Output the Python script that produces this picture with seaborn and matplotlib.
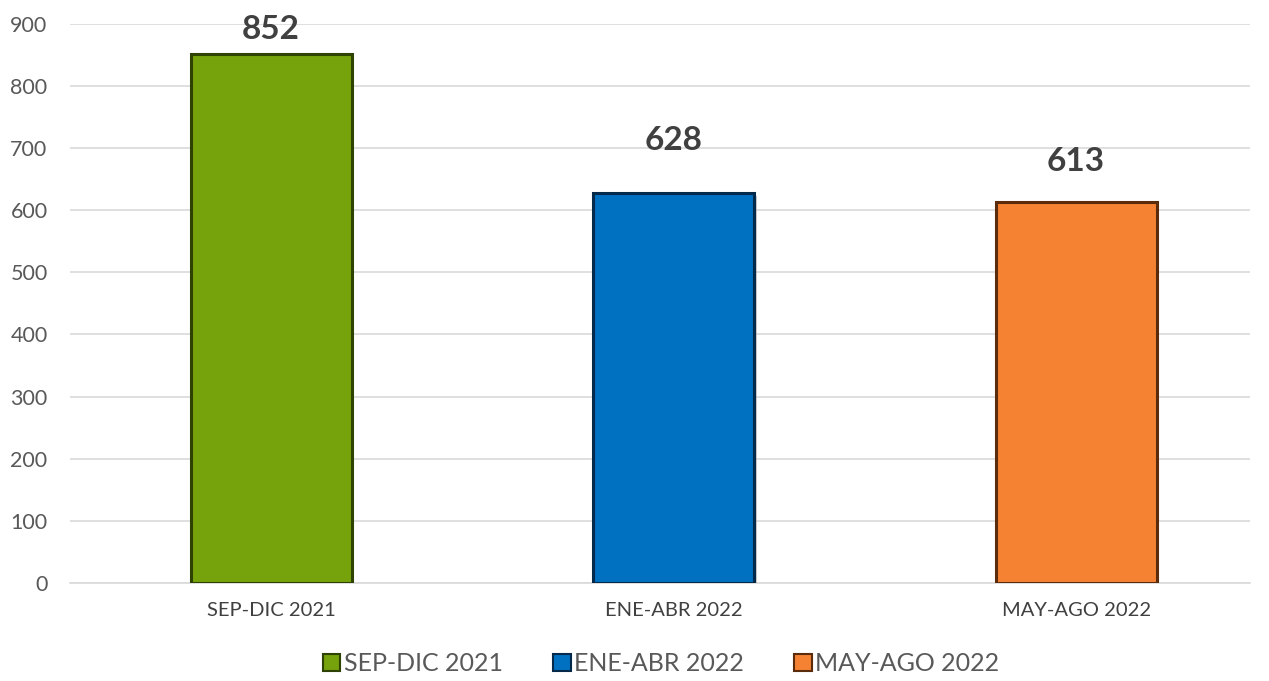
import matplotlib.pyplot as plt
import matplotlib.patches as mpatches
import matplotlib.patheffects as pe
import seaborn as sns
import pandas as pd

# data
periods = ['SEP-DIC 2021', 'ENE-ABR 2022', 'MAY-AGO 2022']
values = [852, 628, 613]
colors = ['#76A20C', '#0070C1', '#F58233']
edge_colors = ['#2E4204', '#032A4A', '#5A2C0C']
label_pad = [7, 27, 19]

sns.set_theme(style='white')
plt.rcParams['font.family'] = ['Lato', 'DejaVu Sans']

df = pd.DataFrame({'periodo': periods, 'valor': values})

fig = plt.figure(figsize=(12.69, 6.81), dpi=100)
ax = fig.add_axes([0.055, 0.144, 0.930, 0.821])

sns.barplot(data=df, x='periodo', y='valor', hue='periodo', palette=colors,
            saturation=1, width=0.40, legend=False, ax=ax, zorder=3)

# bevel-ish look: dark edge plus soft shadow
for bar, ec in zip(ax.patches, edge_colors):
    bar.set_edgecolor(ec)
    bar.set_linewidth(2.2)
    bar.set_path_effects([pe.SimplePatchShadow(offset=(2, -2), shadow_rgbFace='#999999', alpha=0.5),
                          pe.Normal()])

for bar, v, pad in zip(ax.patches, values, label_pad):
    ax.annotate(str(v), (bar.get_x() + bar.get_width() / 2, bar.get_height()),
                xytext=(0, pad), textcoords='offset points', ha='center', va='bottom',
                fontsize=24, fontweight='bold', color='#404040')

ax.set_ylim(0, 900)
ax.set_xlim(-0.5, 2.432)
ax.set_yticks(range(0, 901, 100))
ax.yaxis.grid(True, color='#D9D9D9', linewidth=1.2, zorder=0)
ax.set_axisbelow(True)
for s in ['top', 'right', 'left']:
    ax.spines[s].set_visible(False)
ax.spines['bottom'].set_color('#D9D9D9')
ax.spines['bottom'].set_linewidth(1.2)
ax.tick_params(axis='y', labelsize=15.5, labelcolor='#595959', length=0, pad=16)
ax.tick_params(axis='x', labelsize=14.5, labelcolor='#404040', length=0, pad=14)
ax.set_xlabel('')
ax.set_ylabel('')

handles = [mpatches.Patch(facecolor=c, edgecolor=ec, linewidth=1.5, label=p)
           for p, c, ec in zip(periods, colors, edge_colors)]
fig.legend(handles=handles, loc='center', bbox_to_anchor=(0.521, 0.025), ncol=3,
           frameon=False, fontsize=18, handlelength=0.7, handleheight=0.7,
           handletextpad=0.15, columnspacing=2.0, labelcolor='#595959')

fig.savefig('out.png', dpi=100)
